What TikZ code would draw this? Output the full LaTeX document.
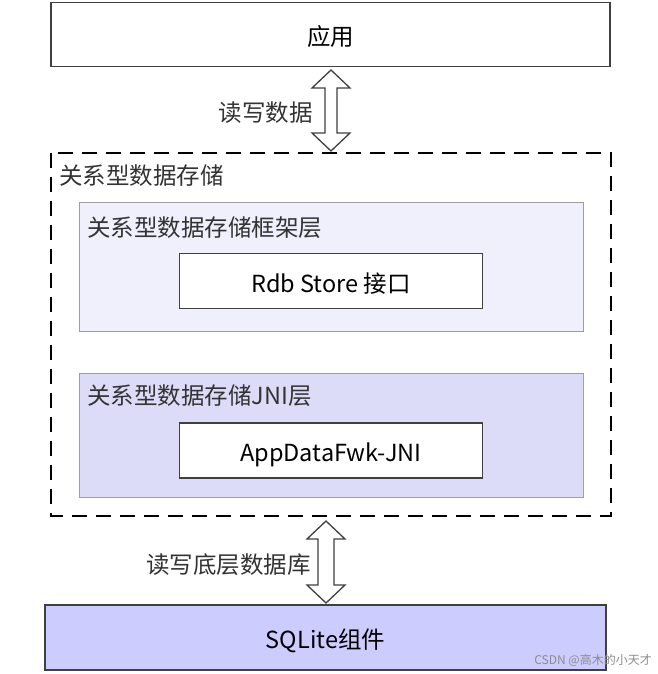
\documentclass[tikz,border=0pt]{standalone}
\usepackage{fontspec}
\setmainfont{Noto Sans CJK SC}
\usetikzlibrary{calc}
\definecolor{boxline}{HTML}{404040}
\definecolor{frameFill}{HTML}{F0F0FC}
\definecolor{jniFill}{HTML}{DCDCF8}
\definecolor{sqlFill}{HTML}{CCCCFF}
\tikzset{
  layerbox/.style={draw=boxline,line width=1.4pt,minimum width=#1,minimum height=64,inner sep=0,
    text height=22pt,text depth=0pt},
  innerlayer/.style={draw=black!38,line width=1pt,anchor=north west,minimum width=504,inner sep=0},
  apibox/.style={draw=boxline,fill=white,line width=1.4pt,minimum width=303,minimum height=55,inner sep=0,
    text height=22pt,text depth=0pt},
  labeltext/.style={text=black!80,inner sep=0},
  blockarrow/.style={draw=boxline,fill=white,line width=1.3pt,line join=miter}
}
% hollow double arrow between two named tips, #3 = half shaft width
\newcommand{\dblarrow}[3]{
  \draw[blockarrow] (#1) -- ($(#1)+(19,18)$) -- ($(#1)+(#3,18)$) -- ($(#2)+(#3,-18)$)
    -- ($(#2)+(19,-18)$) -- (#2) -- ($(#2)+(-19,-18)$) -- ($(#2)+(-#3,-18)$)
    -- ($(#1)+(-#3,18)$) -- ($(#1)+(-19,18)$) -- cycle;
}
\begin{document}
\begin{tikzpicture}[x=1pt,y=-1pt,font=\fontsize{23.5}{28}\selectfont]
\useasboundingbox[fill=white] (0,0) rectangle (657,674);
% top application
\node[layerbox=559] (app) at (330.5,34.5) {应用};
% storage frame (dashed)
\draw[dashed,dash pattern=on 15pt off 9pt,line width=1.3pt] (51,153) rectangle (611,516);
\node[labeltext,anchor=west] (storelbl) at (59,176) {关系型数据存储};
% framework layer
\node[innerlayer,fill=frameFill,minimum height=129] (frame) at (79,202) {};
\node[labeltext,anchor=west] (framelbl) at (87,228) {关系型数据存储框架层};
\node[apibox] (rdb) at (331,281) {Rdb Store 接口};
% JNI layer
\node[innerlayer,fill=jniFill,minimum height=124] (jni) at (79,373) {};
\node[labeltext,anchor=west] (jnilbl) at (87,396) {关系型数据存储JNI层};
\node[apibox] (fwk) at (331,450.5) {AppDataFwk-JNI};
% SQLite component
\node[layerbox=561,fill=sqlFill,minimum height=65] (sqlite) at (325.5,637.5) {SQLite组件};
% arrows
\coordinate (upTop) at (331,70);
\coordinate (upBot) at (331,151);
\dblarrow{upTop}{upBot}{6}
\node[labeltext,anchor=east] (readlbl) at (313,113) {读写数据};
\coordinate (lowTop) at (326,521);
\coordinate (lowBot) at (326,603);
\dblarrow{lowTop}{lowBot}{8}
\node[labeltext,anchor=east] (dblbl) at (311,565) {读写底层数据库};
\node[text=black!45,anchor=east,inner sep=0,font=\fontsize{12}{14}\selectfont] (mark) at (652,660) {CSDN @高木的小天才};
\end{tikzpicture}
\end{document}
